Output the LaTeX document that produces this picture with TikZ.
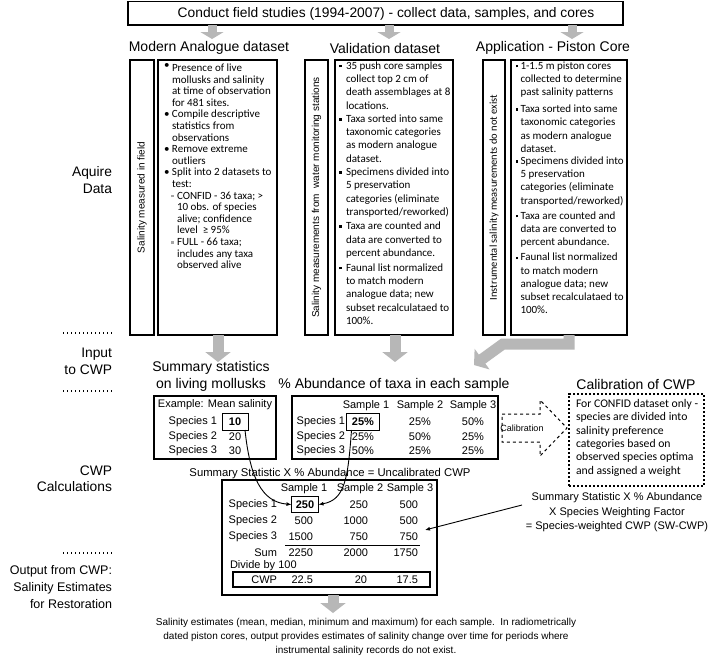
\documentclass[tikz,border=0pt]{standalone}
\usepackage{fontspec}
\setmainfont{Liberation Sans}
\newfontfamily\calfont{Carlito}
\usetikzlibrary{arrows.meta}
\definecolor{garr}{RGB}{183,183,183}
\definecolor{gbul}{RGB}{165,165,165}
\newcommand{\fsz}[2]{\fontsize{#1}{#2}\selectfont}
\newcommand{\rbul}{\makebox[8pt][l]{\raisebox{3pt}{\textbullet}}}
\newcommand{\cbul}{\makebox[8pt][l]{\textbullet}}
\newcommand{\gsub}{\hspace*{7pt}\makebox[6pt][l]{\textcolor{gbul}{\raisebox{1.8pt}{\rule{2.6pt}{2.6pt}}}}}
\newcommand{\indA}{\hspace*{8pt}}
\newcommand{\indB}{\hspace*{13pt}}
\newcommand{\sqv}{\makebox[7pt][l]{\raisebox{1.8pt}{\rule{2.5pt}{2.5pt}}}}
\newcommand{\indC}{\hspace*{7pt}}
\newcommand{\sqa}{\makebox[5pt][l]{\raisebox{1.8pt}{\rule{2.5pt}{2.5pt}}}}
\newcommand{\indD}{\hspace*{5pt}}
\begin{document}
\begin{tikzpicture}[x=1pt,y=-1pt,
  every node/.style={inner sep=0pt,outer sep=0pt},
  box/.style={draw,line width=1.5pt},
  garrow/.style={draw=garr,line width=9pt,-{Triangle[width=23pt,length=7pt]}},
  garrowb/.style={draw=garr,line width=11pt,line join=miter,-{Triangle[width=25pt,length=10pt]}},
  dotsty/.style={line width=1.1pt,dash pattern=on 1.1pt off 2.9pt},
  ttl/.style={font=\fsz{14}{17}},
  lab/.style={font=\fsz{13.8}{16.5},align=right,anchor=east},
  tbl/.style={font=\fsz{11}{13}},
  coltext/.style={anchor=north west,align=left},
  thin/.style={line width=0.9pt,-{Latex[length=5pt,width=4pt]}}]
\useasboundingbox (0,0) rectangle (709,657);
\fill[white] (0,0) rectangle (709,657);

% top
\node[box,anchor=north west,minimum width=495,minimum height=23.5] (top) at (128,1.5) {};
\node[font=\fsz{13.8}{16}] (toptext) at (386,13.5) {Conduct field studies (1994-2007) - collect data, samples, and cores};
\node[ttl] (t1) at (209,48) {Modern Analogue dataset};
\node[ttl] (t2) at (385,48) {Validation dataset};
\node[ttl] (t3) at (553,48) {Application - Piston Core};
\draw[garrow] (top.south -| 212,0) -- (212,39);
\draw[garrow] (top.south -| 389,0) -- (389,39);
\draw[garrow] (top.south -| 572,0) -- (572,39);

% modern analogue
\node[box,anchor=north west,minimum width=24,minimum height=275] (mside) at (130,60) {};
\node[rotate=90,font=\fsz{10}{12}] (mlab) at (mside.center) {Salinity measured in field};
\node[box,anchor=north west,minimum width=119,minimum height=275] (mbox) at (158,60) {};
\node[coltext,font=\calfont\fsz{11}{11.6}] (mtext) at (164,63.5) {%
\rbul Presence of live\\
\indA mollusks and salinity\\
\indA at time of observation\\
\indA for 481 sites.\\
\cbul Compile descriptive\\
\indA statistics from\\
\indA observations\\
\cbul Remove extreme\\
\indA outliers\\
\cbul Split into 2 datasets to\\
\indA test:\\
\gsub CONFID - 36 taxa; >\\
\indB 10 obs. of species\\
\indB alive; confidence\\
\indB level\ \ ≥ 95\%\\
\gsub FULL - 66 taxa;\\
\indB includes any taxa\\
\indB observed alive};

% validation
\node[box,anchor=north west,minimum width=23,minimum height=275] (vside) at (305,60) {};
\node[rotate=90,font=\fsz{10}{12}] (vlab) at (vside.center) {Salinity measurements from\ \ water monitoring stations};
\node[box,anchor=north west,minimum width=118,minimum height=275] (vbox) at (335,60) {};
\node[coltext,font=\calfont\fsz{11}{13.3}] (vtext) at (339,61.5) {%
\sqv 35 push core samples\\
\indC collect top 2 cm of\\
\indC death assemblages at 8\\
\indC locations.\\
\sqv Taxa sorted into same\\
\indC taxonomic categories\\
\indC as modern analogue\\
\indC dataset.\\
\sqv Specimens divided into\\
\indC 5 preservation\\
\indC categories (eliminate\\
\indC transported/reworked)\\[1pt]
\sqv Taxa are counted and\\
\indC data are converted to\\
\indC percent abundance.\\[1.5pt]
\sqv Faunal list normalized\\
\indC to match modern\\
\indC analogue data; new\\
\indC subset recalculataed to\\
\indC 100\%.};

% application
\node[box,anchor=north west,minimum width=22,minimum height=275] (aside) at (483,60) {};
\node[rotate=90,font=\calfont\fsz{10.5}{12}] (alab) at (aside.center) {Instrumental salinity measurements do not exist};
\node[box,anchor=north west,minimum width=116,minimum height=275] (abox) at (511,60) {};
\node[coltext,font=\calfont\fsz{11}{13.2}] (atext) at (515.5,61.5) {%
\sqa 1-1.5 m piston cores\\
\indD collected to determine\\
\indD past salinity patterns\\[4pt]
\sqa Taxa sorted into same\\
\indD taxonomic categories\\
\indD as modern analogue\\
\indD dataset.\\[-1pt]
\sqa Specimens divided into\\
\indD 5 preservation\\
\indD categories (eliminate\\
\indD transported/reworked)\\[2pt]
\sqa Taxa are counted and\\
\indD data are converted to\\
\indD percent abundance.\\[2pt]
\sqa Faunal list normalized\\
\indD to match modern\\
\indD analogue data; new\\
\indD subset recalculataed to\\
\indD 100\%.};

% left stage labels
\node[lab] (l1) at (112,180) {Aquire\\Data};
\draw[dotsty] (63,333) -- (112,333);
\node[lab] (l2) at (112,361.5) {Input\\to CWP};
\draw[dotsty] (63,391) -- (112,391);
\node[lab] (l3) at (112,478.5) {CWP\\Calculations};
\draw[dotsty] (63,553) -- (112,553);
\node[lab,font=\fsz{12.5}{17}] (l4) at (112,587) {Output from CWP:\\Salinity Estimates\\for Restoration};

% arrows to input
\draw[garrowb] (mbox.south -| 218,0) -- (218,362);
\draw[garrowb] (vbox.south -| 395,0) -- (395,362);
\draw[garrowb] (abox.south -| 569,0) -- (569,344) -- (503,344) -- (474,365);

% input titles
\node[ttl,align=center] (sumt) at (211,376) {Summary statistics\\on living mollusks};
\node[ttl] (abt) at (394,385) {\% Abundance of taxa in each sample};
\node[ttl] (calt) at (636,384) {Calibration of CWP};

% summary box
\node[box,anchor=north west,minimum width=122,minimum height=63] (sumbox) at (154,396) {};
\node[tbl] (ex) at (215,405) {Example: Mean salinity};
\node[tbl,anchor=east] (ss1) at (217,421.5) {Species 1};
\node[tbl,anchor=east] (ss2) at (217,437) {Species 2};
\node[tbl,anchor=east] (ss3) at (217,451) {Species 3};
\node[tbl,draw,line width=1pt,minimum width=26,minimum height=17,font=\fsz{11}{13}\bfseries] (v10) at (235,421.5) {10};
\node[tbl] (v20) at (235,437) {20};
\node[tbl] (v30) at (235,451) {30};

% abundance box
\node[box,anchor=north west,minimum width=206,minimum height=63] (abbox) at (292,396) {};
\node[tbl] (ah1) at (366,406) {Sample 1};
\node[tbl] (ah2) at (420,406) {Sample 2};
\node[tbl] (ah3) at (473,406) {Sample 3};
\node[tbl,anchor=east] (as1) at (345,421.5) {Species 1};
\node[tbl,anchor=east] (as2) at (345,436.5) {Species 2};
\node[tbl,anchor=east] (as3) at (345,451) {Species 3};
\node[tbl,draw,line width=1pt,minimum width=33,minimum height=17,font=\fsz{11}{13}\bfseries] (v25) at (363,421.5) {25\%};
\node[tbl] (a21) at (363,436.5) {25\%};
\node[tbl] (a31) at (363,451) {50\%};
\node[tbl] (a12) at (420,421.5) {25\%};
\node[tbl] (a22) at (420,436.5) {50\%};
\node[tbl] (a32) at (420,451) {25\%};
\node[tbl] (a13) at (473,421.5) {50\%};
\node[tbl] (a23) at (473,436.5) {25\%};
\node[tbl] (a33) at (473,451) {25\%};

% calibration arrow and box
\draw[dashed,line width=1pt] (502,414) -- (540,414) -- (540,400) -- (567,428) -- (540,456) -- (540,442) -- (502,442) -- cycle;
\node[font=\fsz{9}{11}] (calarr) at (522,428) {Calibration};
\node[draw,line width=2.4pt,dash pattern=on 2.2pt off 1.8pt,anchor=north west,minimum width=135,minimum height=92] (calbox) at (569,394) {};
\node[coltext,font=\calfont\fsz{11.7}{13.3}] (caltext) at (576,399.5) {For CONFID dataset only -\\species are divided into\\salinity preference\\categories based on\\observed species optima\\and assigned a weight};

% uncalibrated formula
\node[font=\fsz{11.3}{13}] (uncal) at (330,474) {Summary Statistic X \% Abundance = Uncalibrated CWP};

% CWP table
\node[box,anchor=north west,minimum width=215,minimum height=115] (cwpbox) at (222,480) {};
\node[tbl] (ch1) at (304,489) {Sample 1};
\node[tbl] (ch2) at (360,489) {Sample 2};
\node[tbl] (ch3) at (410,489) {Sample 3};
\node[tbl,anchor=east] (cs1) at (277,504.5) {Species 1};
\node[tbl,anchor=east] (cs2) at (277,521) {Species 2};
\node[tbl,anchor=east] (cs3) at (277,537) {Species 3};
\node[tbl,anchor=east] (csum) at (277,552.5) {Sum};
\node[tbl,draw,line width=1pt,minimum width=27,minimum height=15.5,font=\fsz{11}{13}\bfseries] (v250) at (305,504.5) {250};
\node[tbl,anchor=east] (c12) at (368,504.5) {250};
\node[tbl,anchor=east] (c13) at (418,504.5) {500};
\node[tbl,anchor=east] (c21) at (313,521) {500};
\node[tbl,anchor=east] (c22) at (368,521) {1000};
\node[tbl,anchor=east] (c23) at (418,521) {500};
\node[tbl,anchor=east] (c31) at (313,537) {1500};
\node[tbl,anchor=east] (c32) at (368,537) {750};
\node[tbl,anchor=east] (c33) at (418,537) {750};
\draw[line width=1pt] (285,545) -- (420,545);
\node[tbl,anchor=east] (s1) at (313,552.5) {2250};
\node[tbl,anchor=east] (s2) at (368,552.5) {2000};
\node[tbl,anchor=east] (s3) at (418,552.5) {1750};
\node[tbl,anchor=west] (div) at (230,566) {Divide by 100};
\node[draw,line width=1.4pt,anchor=north west,minimum width=197,minimum height=15] (cwprow) at (233,572) {};
\node[tbl,anchor=east] (cwpl) at (277,579.5) {CWP};
\node[tbl,anchor=east] (w1) at (313,579.5) {22.5};
\node[tbl,anchor=east] (w2) at (367,579.5) {20};
\node[tbl,anchor=east] (w3) at (418,579.5) {17.5};

% curved connectors
\draw[thin] ([xshift=-3pt]v10.south east) .. controls (250,478) and (262,502) .. (v250.west);
\draw[thin] ([xshift=5pt]v25.south west) .. controls (348,478) and (345,500) .. (v250.east);

% SW-CWP
\node[font=\fsz{11}{14.5},align=center] (swtext) at (617,512.5) {Summary Statistic X \% Abundance\\X Species Weighting Factor\\= Species-weighted CWP (SW-CWP)};
\coordinate (swtail) at (522,505);
\coordinate (swhead) at (425,530);
\draw[thin] (swtail) -- (swhead);

% output
\draw[garrowb] (cwpbox.south -| 333,0) -- (333,613);
\node[font=\fsz{10}{14},align=center] (outtext) at (366,637) {Salinity estimates (mean, median, minimum and maximum) for each sample.\ \ In radiometrically\\dated piston cores, output provides estimates of salinity change over time for periods where\\instrumental salinity records do not exist.};
\end{tikzpicture}
\end{document}
